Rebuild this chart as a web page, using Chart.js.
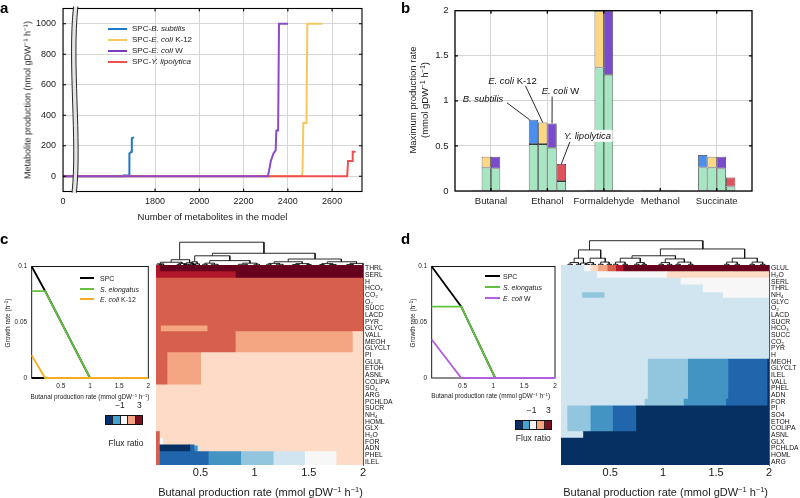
<!DOCTYPE html>
<html><head><meta charset="utf-8">
<script src="https://cdn.jsdelivr.net/npm/chart.js@4/dist/chart.umd.min.js"></script>
<style>
body{margin:0;width:800px;height:498px;position:relative;background:#fff;font-family:"Liberation Sans",Arial,Helvetica,sans-serif;overflow:hidden}
canvas{position:absolute}
.t{position:absolute;white-space:nowrap;color:#1a1a1a;line-height:1}
.t sup{font-size:68%;line-height:0;vertical-align:0;position:relative;top:-0.5em}
.pl{position:absolute;font-weight:bold;font-size:15px;line-height:1;color:#000}
.sw{position:absolute;height:2px}
.cb{position:absolute;display:flex;border:1px solid #111;box-sizing:border-box}
.cb div{flex:1;border-left:0.5px solid #222}
.cb div:first-child{border-left:none}
</style></head><body>
<script>
// ================= DATA =================
// Panel a: metabolite production vs number of metabolites (broken axis at left, leftmost tick = 0)
const aBlueX   = [0, 1657, 1658, 1683, 1684, 1693, 1695, 1705];
const aBlueY   = [0, 0, 5, 5, 150, 160, 250, 255];
const aYellowX = [0, 2460, 2466, 2470, 2484, 2488, 2556];
const aYellowY = [0, 0, 20, 350, 350, 1000, 1000];
const aPurpleX = [0, 2310, 2318, 2323, 2335, 2345, 2348, 2356, 2360, 2401];
const aPurpleY = [0, 0, 60, 100, 150, 170, 300, 300, 1000, 1000];
const aRedX    = [0, 2668, 2672, 2690, 2693, 2706];
const aRedY    = [0, 0, 100, 100, 160, 160];
const aAxisMin = 1384, aAxisMax = 2735, aBreakAt = 1437;
const aTicksX  = [1800, 2000, 2200, 2400, 2600];
const aTicksY  = [0, 200, 400, 600, 800, 1000];

// Panel b: maximum production rate (S. elongatus share + partner share)
const bCategories = ['Butanal', 'Ethanol', 'Formaldehyde', 'Methanol', 'Succinate'];
const bBsubBase = [0.01, 0.52, 0.01, 0.01, 0.26];
const bBsubTop  = [null, 0.27, null, null, 0.14];
const bK12Base  = [0.26, 0.52, 1.37, 0.01, 0.26];
const bK12Top   = [0.12, 0.24, 0.63, null, 0.12];
const bWBase    = [0.25, 0.48, 1.29, 0.01, 0.25];
const bWTop     = [0.13, 0.27, 0.71, null, 0.13];
const bYlBase   = [0.01, 0.11, 0.01, 0.01, 0.05];
const bYlTop    = [null, 0.19, null, null, 0.10];
const bTicksY   = [0, 0.5, 1, 1.5, 2];

// Panel c inset: growth rate vs butanal production
const cSpcX = [0, 0.23, 1, 2, null, 0, 0.23];
const cSpcY = [0.1, 0.078, 0, 0, null, 0, 0];
const cSelX = [0, 0.23, 1];
const cSelY = [0.078, 0.078, 0];
const cK12X = [0, 0.23, 2];
const cK12Y = [0.0203, 0, 0];
// Panel d inset
const dSpcX = [0, 0.48, 1.03];
const dSpcY = [0.1, 0.064, 0];
const dSelX = [0, 0.48, 1.03];
const dSelY = [0.064, 0.064, 0];
const dWX   = [0, 0.48, 2];
const dWY   = [0.0345, 0, 0];
const insetTicksX = [0.5, 1, 1.5, 2];
const insetTicksY = [0, 0.05, 0.1];
const heatTicksX  = [0.5, 1, 1.5, 2];

// Heatmap colour classes (flux ratio)
const HC = {D:'#67001f', R:'#b2182b', O:'#d6604d', S:'#f4a582', P:'#fddbc7', W:'#f7f7f7',
            L:'#d1e5f0', M:'#92c5de', B:'#4393c3', N:'#2166ac', K:'#053061'};

// Heatmap c: rows and segments [from, to, class]
const cRowLabels = ['THRL','SERL','H','HCO₃','CO₂','O₂','SUCC','LACD','PYR','GLYC','VALL','MEOH','GLYCLT','PI',
  'GLUL','ETOH','ASNL','COLIPA','SO₄','ARG','PCHLDA','SUCR','NH₄','HOML','GLX','H₂O','FOR','ADN','PHEL','ILEL'];
const cXMin = 0.09;
const cRowO   = [[0.09,2,'O']];
const cRowVal = [[0.09,0.82,'O'],[0.82,1.9,'S'],[1.9,2,'P']];
const cRowPi  = [[0.09,0.19,'O'],[0.19,0.5,'S'],[0.5,2,'P']];
const cRowP   = [[0.09,2,'P']];
const cRowBl  = [[0.09,0.12,'O'],[0.12,0.57,'N'],[0.57,0.87,'B'],[0.87,1.17,'M'],[1.17,1.46,'L'],[1.46,1.75,'W'],[1.75,2,'P']];
const cRows = [
  [[0.09,0.12,'R'],[0.12,2,'D']],
  [[0.09,0.82,'R'],[0.82,2,'D']],
  cRowO, cRowO, cRowO, cRowO, cRowO, cRowO, cRowO,
  [[0.09,0.13,'O'],[0.13,0.56,'S'],[0.56,2,'O']],
  cRowVal, cRowVal, cRowVal,
  cRowPi, cRowPi, cRowPi, cRowPi, cRowPi,
  cRowP, cRowP, cRowP, cRowP, cRowP, cRowP, cRowP,
  [[0.09,0.12,'O'],[0.12,2,'P']],
  [[0.09,0.12,'O'],[0.12,0.15,'W'],[0.15,2,'P']],
  [[0.09,0.12,'O'],[0.12,0.40,'K'],[0.40,0.44,'N'],[0.44,0.47,'B'],[0.47,0.49,'L'],[0.49,2,'P']],
  cRowBl, cRowBl
];

// Heatmap d
const dRowLabels = ['GLUL','H₂O','SERL','THRL','NH₄','GLYC','O₂','LACD','SUCR','HCO₃','SUCC','CO₂','PYR','H',
  'MEOH','GLYCLT','ILEL','VALL','PHEL','ADN','FOR','PI','SO4','ETOH','COLIPA','ASNL','GLX','PCHLDA','HOML','ARG'];
const dXMin = 0.035;
const dRowL  = [[0.035,2,'L']];
const dRowMe = [[0.035,0.85,'L'],[0.85,1.23,'M'],[1.23,1.61,'B'],[1.61,1.98,'N'],[1.98,2,'K']];
const dRowPi = [[0.035,0.09,'L'],[0.09,0.31,'M'],[0.31,0.52,'B'],[0.52,0.74,'N'],[0.74,2,'K']];
const dRowK  = [[0.035,2,'K']];
const dRows = [
  [[0.035,0.247,'L'],[0.247,0.31,'W'],[0.31,0.38,'P'],[0.38,0.47,'S'],[0.47,0.55,'O'],[0.55,0.62,'R'],[0.62,2,'D']],
  [[0.035,0.37,'L'],[0.37,1.03,'W'],[1.03,2,'P']],
  [[0.035,1.16,'L'],[1.16,2,'W']],
  [[0.035,1.37,'L'],[1.37,2,'W']],
  [[0.035,0.23,'L'],[0.23,0.44,'M'],[0.44,1.56,'L'],[1.56,2,'W']],
  dRowL, dRowL, dRowL, dRowL, dRowL, dRowL, dRowL, dRowL, dRowL,
  dRowMe, dRowMe, dRowMe, dRowMe, dRowMe, dRowMe,
  [[0.035,0.82,'L'],[0.82,1.19,'M'],[1.19,1.59,'B'],[1.59,1.98,'N'],[1.98,2,'K']],
  dRowPi, dRowPi, dRowPi, dRowPi,
  [[0.035,0.24,'L'],[0.24,2,'K']],
  dRowK, dRowK, dRowK, dRowK
];

// Dendrogram links [xLeft, xRight, height, leftChildHeight, rightChildHeight]
const cDendro = [
  [0.308,1.086,0.99,0.23,0.51],[0.61,1.558,0.51,0.40,0.26],[0.447,0.771,0.40,0.14,0.19],
  [1.31,1.80,0.26,0.14,0.14],[0.23,0.40,0.23,0.12,0.10],[0.42,0.47,0.14,0.05,0.05],
  [0.586,0.957,0.19,0.08,0.08],[1.18,1.44,0.14,0.07,0.06],[1.67,1.94,0.14,0.06,0.07],
  [0.13,0.33,0.12,0.05,0.06],[0.37,0.43,0.10,0.04,0.04],
  [0.10,0.16,0.05,0,0],[0.30,0.36,0.06,0,0],[0.35,0.39,0.04,0,0],[0.41,0.45,0.04,0,0],
  [0.40,0.44,0.05,0,0],[0.45,0.49,0.05,0,0],[0.54,0.63,0.08,0.03,0.03],[0.89,1.02,0.08,0.03,0.03],
  [1.13,1.23,0.07,0.03,0.03],[1.38,1.50,0.06,0.02,0.02],[1.62,1.72,0.06,0.02,0.02],[1.88,2.0,0.07,0.02,0],
  [0.52,0.56,0.03,0,0],[0.60,0.66,0.03,0,0],[0.85,0.93,0.03,0,0],[0.995,1.045,0.03,0,0],
  [1.11,1.15,0.03,0,0],[1.20,1.26,0.03,0,0],[1.35,1.41,0.02,0,0],[1.48,1.52,0.02,0,0],
  [1.60,1.64,0.02,0,0],[1.69,1.75,0.02,0,0],[1.85,1.91,0.02,0,0],
  [0.115,0.145,0.025,0,0],[0.285,0.315,0.03,0,0],[0.345,0.375,0.02,0,0],[0.425,0.455,0.02,0,0]
];
const dDendro = [
  [0.304,1.375,1.0,0.62,0.66],[0.20,0.41,0.62,0.28,0.28],[0.974,1.77,0.66,0.38,0.28],
  [0.706,1.116,0.38,0.28,0.25],[1.653,1.89,0.28,0.12,0.12],[0.159,0.247,0.28,0.10,0.08],
  [0.31,0.453,0.28,0.10,0.12],[0.595,0.784,0.28,0.12,0.10],[1.02,1.20,0.25,0.10,0.12],
  [0.12,0.20,0.10,0.03,0.03],[0.22,0.27,0.08,0.02,0.02],[0.28,0.34,0.10,0.03,0.03],[0.41,0.49,0.12,0.03,0.03],
  [0.55,0.64,0.12,0.03,0.03],[0.75,0.82,0.10,0.03,0.03],[0.98,1.06,0.10,0.03,0.03],[1.14,1.26,0.12,0.03,0.03],
  [1.60,1.70,0.12,0.03,0.03],[1.84,1.94,0.12,0.03,0.03],
  [0.10,0.14,0.03,0,0],[0.18,0.22,0.03,0,0],[0.26,0.30,0.03,0,0],[0.32,0.36,0.03,0,0],
  [0.39,0.43,0.03,0,0],[0.47,0.51,0.03,0,0],[0.53,0.57,0.03,0,0],[0.62,0.66,0.03,0,0],
  [0.73,0.77,0.03,0,0],[0.80,0.84,0.03,0,0],[0.96,1.00,0.03,0,0],[1.04,1.08,0.03,0,0],
  [1.12,1.16,0.03,0,0],[1.24,1.28,0.03,0,0],[1.58,1.62,0.03,0,0],[1.68,1.72,0.03,0,0],
  [1.82,1.86,0.03,0,0],[1.92,1.96,0.03,0,0]
];

// ================= HELPERS =================
Chart.defaults.font.family = '"Liberation Sans", Arial, Helvetica, sans-serif';
Chart.defaults.color = '#1a1a1a';
const xy = (xs, ys) => xs.map((x, i) => ({x: x, y: ys[i]}));
const fixTicks = vals => s => { s.ticks = vals.map(v => ({value: v})); };

function drawFrame(chart, o) {
  const ctx = chart.ctx, a = chart.chartArea;
  ctx.save();
  ctx.strokeStyle = '#000'; ctx.lineWidth = o.width || 1;
  if (o.ticks) {
    const xs = chart.scales.x, ys = chart.scales.y, tl = o.ticks;
    ctx.beginPath();
    xs.ticks.forEach(t => { const p = xs.getPixelForValue(t.value); if (p <= a.left + 1 || p >= a.right - 1) return;
      ctx.moveTo(p, a.bottom); ctx.lineTo(p, a.bottom - tl); ctx.moveTo(p, a.top); ctx.lineTo(p, a.top + tl); });
    ys.ticks.forEach(t => { const p = ys.getPixelForValue(t.value); if (p <= a.top + 1 || p >= a.bottom - 1) return;
      ctx.moveTo(a.left, p); ctx.lineTo(a.left + tl, p); ctx.moveTo(a.right, p); ctx.lineTo(a.right - tl, p); });
    ctx.stroke();
  }
  ctx.strokeRect(a.left, a.top, a.right - a.left, a.bottom - a.top);
  ctx.restore();
}
const framePlugin = {
  id: 'frame',
  beforeDatasetsDraw(chart, args, o) { if (o && o.on && o.under) drawFrame(chart, o); },
  afterDatasetsDraw(chart, args, o) { if (o && o.on && !o.under) drawFrame(chart, o); }
};
Chart.register(framePlugin);

function mkChart(box, area, cfg, ax) {
  const cv = document.createElement('canvas');
  cv.width = box[2]; cv.height = box[3];
  cv.style.left = box[0] + 'px'; cv.style.top = box[1] + 'px';
  document.body.appendChild(cv);
  const L = area[0] - box[0], T = area[1] - box[1], R = box[0] + box[2] - area[2], B = box[1] + box[3] - area[3];
  const o = cfg.options;
  o.responsive = false; o.maintainAspectRatio = false; o.animation = false; o.devicePixelRatio = 1;
  o.plugins = Object.assign({legend: {display: false}, tooltip: {enabled: false}}, o.plugins || {});
  o.layout = {padding: {top: T, bottom: ax.x ? 0 : B, left: ax.y === 'left' ? 0 : L, right: ax.y === 'right' ? 0 : R}};
  if (ax.x) o.scales.x.afterFit = s => { s.height = B; s.paddingLeft = 0; s.paddingRight = 0; };
  if (ax.y) o.scales.y.afterFit = s => { s.width = ax.y === 'left' ? L : R; s.paddingTop = 0; s.paddingBottom = 0; };
  return new Chart(cv, cfg);
}

function txt(html, x, y, size, opt) {
  opt = opt || {};
  const d = document.createElement('div');
  d.className = 't'; d.innerHTML = html;
  d.style.fontSize = size + 'px'; d.style.left = x + 'px'; d.style.top = y + 'px';
  let tr = opt.left ? 'translate(0,-50%)' : 'translate(-50%,-50%)';
  if (opt.rot) tr += ' rotate(-90deg)';
  d.style.transform = tr;
  if (opt.ta) d.style.textAlign = opt.ta;
  if (opt.lh) d.style.lineHeight = opt.lh;
  document.body.appendChild(d);
  return d;
}
function swatch(x, y, w, color) {
  const d = document.createElement('div'); d.className = 'sw';
  d.style.left = x + 'px'; d.style.top = (y - 1) + 'px'; d.style.width = w + 'px'; d.style.background = color;
  document.body.appendChild(d);
}
function panelLabel(ch, x, y) {
  const d = document.createElement('div'); d.className = 'pl'; d.textContent = ch;
  d.style.left = x + 'px'; d.style.top = y + 'px'; document.body.appendChild(d);
}
function colorbar(x, y, w, h, cols) {
  const d = document.createElement('div'); d.className = 'cb';
  d.style.left = x + 'px'; d.style.top = y + 'px'; d.style.width = w + 'px'; d.style.height = h + 'px';
  cols.forEach(c => { const e = document.createElement('div'); e.style.background = c; d.appendChild(e); });
  document.body.appendChild(d);
}

// ================= PANEL A =================
const breakPlugin = {
  id: 'axisBreak',
  afterDraw(chart) {
    const ctx = chart.ctx, a = chart.chartArea, xs = chart.scales.x;
    const xc = xs.getPixelForValue(aBreakAt), xl = xc - 2.2, xr = xc + 2.2;
    const top = a.top - 2, bot = a.bottom + 1.2, y1 = top + (bot - top) * 0.3, y2 = top + (bot - top) * 0.72;
    ctx.save();
    ctx.beginPath();
    ctx.moveTo(xl + 1, top); ctx.bezierCurveTo(xl - 5, y1, xl + 5, y2, xl - 0.5, bot);
    ctx.lineTo(xr - 0.5, bot); ctx.bezierCurveTo(xr + 5, y2, xr - 5, y1, xr + 1, top);
    ctx.closePath(); ctx.fillStyle = '#e4e4e4'; ctx.fill();
    ctx.strokeStyle = '#111'; ctx.lineWidth = 0.9;
    ctx.beginPath(); ctx.moveTo(xl + 1, top); ctx.bezierCurveTo(xl - 5, y1, xl + 5, y2, xl - 0.5, bot); ctx.stroke();
    ctx.beginPath(); ctx.moveTo(xr + 1, top); ctx.bezierCurveTo(xr - 5, y1, xr + 5, y2, xr - 0.5, bot); ctx.stroke();
    ctx.restore();
  }
};
const lineDs = (label, pts, color) => ({label: label, data: pts, borderColor: color, backgroundColor: color,
  borderWidth: 2, pointRadius: 0, tension: 0, fill: false});
const colA = {blue: '#1f78c8', yellow: '#f6c75c', purple: '#8a4cc8', red: '#f04f4f'};
mkChart([0, 0, 400, 225], [63, 8.5, 362, 191.5], {
  type: 'line',
  data: {datasets: [
    lineDs('SPC-E. coli W', xy(aPurpleX, aPurpleY), colA.purple),
    lineDs('SPC-Y. lipolytica', xy(aRedX, aRedY), colA.red),
    lineDs('SPC-E. coli K-12', xy(aYellowX, aYellowY), colA.yellow),
    lineDs('SPC-B. subtilis', xy(aBlueX, aBlueY), colA.blue)
  ]},
  options: {
    scales: {
      x: {type: 'linear', min: aAxisMin, max: aAxisMax, afterBuildTicks: fixTicks([aAxisMin].concat(aTicksX)),
          grid: {color: '#d6d6d6', drawTicks: false}, border: {display: false},
          ticks: {font: {size: 9}, padding: 4.8, callback: v => v === aAxisMin ? '0' : String(v)}},
      y: {min: -100, max: 1100, afterBuildTicks: fixTicks(aTicksY),
          grid: {color: '#d6d6d6', drawTicks: false}, border: {display: false},
          ticks: {font: {size: 9}, padding: 7, callback: v => String(v)}}
    },
    plugins: {frame: {on: true, width: 1.1, ticks: 3}}
  },
  plugins: [breakPlugin]
}, {x: 'bottom', y: 'left'});
txt('Metabolite production (nmol gDW<sup>−1</sup> h<sup>−1</sup>)', 28.3, 100, 9, {rot: true});
txt('Number of metabolites in the model', 212.5, 216.7, 9.5);
[['SPC-<i>B. subtilis</i>', colA.blue, 29], ['SPC-<i>E. coli</i> K-12', colA.yellow, 40],
 ['SPC-<i>E. coli</i> W', '#7a3cbc', 51], ['SPC-<i>Y. lipolytica</i>', colA.red, 62]].forEach(r => {
  swatch(108, r[2], 19, r[1]); txt(r[0], 132, r[2], 8, {left: true});
});

// ================= PANEL B =================
const colB = {green: '#a6e6c2', blue: '#4a8ef0', yellow: '#fdd882', purple: '#7a4ccb', red: '#e0525a'};
const bNotes = [
  {parts: [['B. subtilis', true]], tx: 0.859, ty: 1.011, lx: 1.284, ly: 0.978, ds: 4, off: -0.4},
  {parts: [['E. coli', true], [' K-12', false]], tx: 1.381, ty: 1.214, lx: 1.611, ly: 1.167, ds: 5, off: 0},
  {parts: [['E. coli', true], [' W', false]], tx: 2.232, ty: 1.103, lx: 2.084, ly: 1.048, ds: 6, off: 0},
  {parts: [['Y. lipolytica', true]], tx: 2.71, ty: 0.611, lx: 2.412, ly: 0.567, ds: 7, off: 0, bg: true}
];
const bNoteCategory = 1;
const notePlugin = {
  id: 'barNotes',
  afterDatasetsDraw(chart) {
    const ctx = chart.ctx, xs = chart.scales.x, ys = chart.scales.y;
    ctx.save();
    bNotes.forEach(n => {
      const el = chart.getDatasetMeta(n.ds).data[bNoteCategory];
      ctx.strokeStyle = '#111'; ctx.lineWidth = 0.9;
      ctx.beginPath(); ctx.moveTo(xs.getPixelForValue(n.lx), ys.getPixelForValue(n.ly));
      ctx.lineTo(el.x + n.off * el.width, el.y); ctx.stroke();
      const fam = Chart.defaults.font.family;
      let total = 0;
      n.parts.forEach(p => { ctx.font = (p[1] ? 'italic ' : '') + '9.5px ' + fam; total += ctx.measureText(p[0]).width; });
      const cx = xs.getPixelForValue(n.tx), cy = ys.getPixelForValue(n.ty);
      let x = cx - total / 2;
      if (n.bg) { ctx.fillStyle = '#fff'; ctx.fillRect(x - 1.5, cy - 6, total + 3, 12); }
      ctx.fillStyle = '#111'; ctx.textBaseline = 'middle'; ctx.textAlign = 'left';
      n.parts.forEach(p => { ctx.font = (p[1] ? 'italic ' : '') + '9.5px ' + fam; ctx.fillText(p[0], x, cy); x += ctx.measureText(p[0]).width; });
    });
    ctx.restore();
  }
};
const barDs = (vals, color, stack) => ({data: vals.map((v, i) => ({x: i + 1, y: v})), backgroundColor: color,
  borderColor: '#3a3a3a', borderWidth: 0.8, stack: stack, barPercentage: 1, categoryPercentage: 0.66, borderSkipped: false});
mkChart([400, 0, 400, 225], [455, 10.7, 752, 191], {
  type: 'bar',
  data: {datasets: [
    barDs(bBsubBase, colB.green, 's1'), barDs(bK12Base, colB.green, 's2'),
    barDs(bWBase, colB.green, 's3'), barDs(bYlBase, colB.green, 's4'),
    barDs(bBsubTop, colB.blue, 's1'), barDs(bK12Top, colB.yellow, 's2'),
    barDs(bWTop, colB.purple, 's3'), barDs(bYlTop, colB.red, 's4')
  ]},
  options: {
    scales: {
      x: {type: 'linear', min: 0.363, max: 5.625, offset: false, afterBuildTicks: fixTicks([1, 2, 3, 4, 5]),
          grid: {color: '#d6d6d6', drawTicks: false, offset: false}, border: {display: false},
          ticks: {font: {size: 9.5}, padding: 4.3, callback: v => bCategories[v - 1] || ''}},
      y: {stacked: true, min: 0, max: 2, afterBuildTicks: fixTicks(bTicksY),
          grid: {color: '#d6d6d6', drawTicks: false}, border: {display: false},
          ticks: {font: {size: 9.5}, padding: 6.5, callback: v => String(v)}}
    },
    plugins: {frame: {on: true, width: 1.3, ticks: 3}}
  },
  plugins: [notePlugin]
}, {x: 'bottom', y: 'left'});
txt('Maximum production rate<br>(mmol gDW<sup>−1</sup> h<sup>−1</sup>)', 418.5, 100, 9.5, {rot: true, ta: 'center', lh: '1.3'});

// ================= INSETS (c, d) =================
function insetCfg(datasets) {
  return {
    type: 'line',
    data: {datasets: datasets},
    options: {
      scales: {
        x: {type: 'linear', min: 0, max: 2, afterBuildTicks: fixTicks(insetTicksX), grid: {display: false, drawTicks: false},
            border: {display: false}, ticks: {font: {size: 6.5}, padding: 4, callback: v => String(v)}},
        y: {min: 0, max: 0.1, afterBuildTicks: fixTicks(insetTicksY), grid: {display: false, drawTicks: false},
            border: {display: false}, ticks: {font: {size: 6.5}, padding: 4.5, callback: v => String(v)}}
      },
      plugins: {frame: {on: true, under: true, width: 0.9}}
    }
  };
}
const inDs = (pts, color) => ({data: pts, borderColor: color, borderWidth: 1.8, pointRadius: 0, tension: 0, spanGaps: false, fill: false, clip: 2});
const colIn = {spc: '#000000', sel: '#62c13d', k12: '#f5ad1f', w: '#b25ee0'};
mkChart([0, 255, 156, 145], [31.7, 266.5, 148.3, 378], insetCfg([
  inDs(xy(cK12X, cK12Y), colIn.k12), inDs(xy(cSelX, cSelY), colIn.sel), inDs(xy(cSpcX, cSpcY), colIn.spc)
]), {x: 'bottom', y: 'left'});
mkChart([400, 255, 160, 145], [431.7, 266.5, 555, 378], insetCfg([
  inDs(xy(dWX, dWY), colIn.w), inDs(xy(dSelX, dSelY), colIn.sel), inDs(xy(dSpcX, dSpcY), colIn.spc)
]), {x: 'bottom', y: 'left'});
txt('Growth rate (h<sup>−1</sup>)', 7.5, 322.5, 6.5, {rot: true});
txt('Butanal production rate (mmol gDW<sup>−1</sup> h<sup>−1</sup>)', 90, 396.7, 6.4);
txt('Growth rate (h<sup>−1</sup>)', 413.3, 322.5, 6.5, {rot: true});
txt('Butanal production rate (mmol gDW<sup>−1</sup> h<sup>−1</sup>)', 490.7, 396.3, 6.4);
[['SPC', colIn.spc, 278.3], ['<i>S. elongatus</i>', colIn.sel, 288.7], ['<i>E. coli</i> K-12', colIn.k12, 299]].forEach(r => {
  swatch(80, r[2], 13.5, r[1]); txt(r[0], 100, r[2], 7, {left: true});
});
[['SPC', colIn.spc, 276], ['<i>S. elongatus</i>', colIn.sel, 286.7], ['<i>E. coli</i> W', colIn.w, 297.7]].forEach(r => {
  swatch(485, r[2], 15, r[1]); txt(r[0], 503, r[2], 7, {left: true});
});

// ================= HEATMAPS =================
function heatCfg(labels, rows, xmin) {
  const maxSeg = Math.max.apply(null, rows.map(r => r.length));
  const datasets = [];
  for (let k = 0; k < maxSeg; k++) {
    datasets.push({
      data: rows.map(r => r[k] ? [r[k][0], r[k][1]] : null),
      backgroundColor: rows.map(r => r[k] ? HC[r[k][2]] : 'rgba(0,0,0,0)'),
      borderWidth: 0, barPercentage: 1, categoryPercentage: 1, grouped: false, inflateAmount: 0.5
    });
  }
  return {
    type: 'bar',
    data: {labels: labels, datasets: datasets},
    options: {
      indexAxis: 'y',
      scales: {
        x: {type: 'linear', min: xmin, max: 2, afterBuildTicks: fixTicks(heatTicksX), grid: {display: false, drawTicks: false},
            border: {display: false}, ticks: {font: {size: 11}, padding: 1.5, callback: v => String(v)}},
        y: {type: 'category', position: 'right', grid: {display: false, drawTicks: false},
            border: {display: true, color: '#555', width: 1},
            ticks: {autoSkip: false, font: {size: 6.8}, padding: 2, color: '#111'}}
      }
    }
  };
}
mkChart([150, 255, 250, 243], [156, 265, 363, 465], heatCfg(cRowLabels, cRows, cXMin), {x: 'bottom', y: 'right'});
mkChart([555, 255, 245, 243], [561, 265, 769, 465], heatCfg(dRowLabels, dRows, dXMin), {x: 'bottom', y: 'right'});
txt('Butanal production rate (mmol gDW<sup>−1</sup> h<sup>−1</sup>)', 260.5, 491.7, 11);
txt('Butanal production rate (mmol gDW<sup>−1</sup> h<sup>−1</sup>)', 665.6, 491.7, 11);

// Dendrograms
function dendroCfg(links, xmin) {
  const pts = [];
  links.forEach(l => { pts.push({x: l[0], y: l[3]}, {x: l[0], y: l[2]}, {x: l[1], y: l[2]}, {x: l[1], y: l[4]}, {x: null, y: null}); });
  return {
    type: 'line',
    data: {datasets: [{data: pts, borderColor: '#111', borderWidth: 0.9, pointRadius: 0, tension: 0, spanGaps: false, fill: false, clip: false}]},
    options: {scales: {x: {type: 'linear', min: xmin, max: 2, display: false}, y: {min: 0, max: 1, display: false}}}
  };
}
mkChart([150, 236, 220, 30], [156, 242, 363, 265], dendroCfg(cDendro, cXMin), {x: null, y: null});
mkChart([555, 234, 220, 32], [561, 240.7, 769, 265], dendroCfg(dDendro, dXMin), {x: null, y: null});

// Colour bars
const cbCols = ['#0b2f6b', '#45a2d2', '#f7f7f7', '#f4a582', '#7a1020'];
colorbar(105, 415, 38.3, 10, cbCols);
txt('−1', 120, 405.3, 8.5); txt('3', 139.3, 405.3, 8.5); txt('Flux ratio', 126, 443.3, 8.5);
colorbar(515, 420, 36.7, 10, cbCols);
txt('−1', 531.7, 410, 8.5); txt('3', 548.3, 410, 8.5); txt('Flux ratio', 533.3, 438.3, 8.5);

// Panel letters
panelLabel('a', 0, 0); panelLabel('b', 401, 0); panelLabel('c', 0, 231); panelLabel('d', 401, 231);
</script>
</body></html>
